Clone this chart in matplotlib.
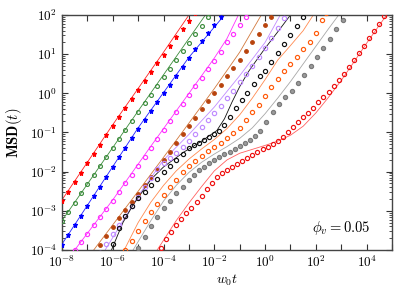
import matplotlib
matplotlib.use("Agg")
import matplotlib.pyplot as plt
import numpy as np
from matplotlib.ticker import FixedLocator, FuncFormatter, LogLocator, NullLocator

plt.rcParams["mathtext.fontset"] = "cm"
plt.rcParams["font.family"] = "serif"
plt.rcParams["font.serif"] = ["DejaVu Serif"]

# log10(w0 t) and log10(MSD), one pair per series
S1_T = [-8.0, -7.75, -7.5, -7.25, -7.0, -6.75, -6.5, -6.25, -6.0, -5.75, -5.5, -5.25, -5.0, -4.75,
        -4.5, -4.25, -4.0, -3.75, -3.5, -3.25, -3.0, -2.75]
S1_M = [-2.75, -2.51, -2.27, -2.03, -1.79, -1.55, -1.31, -1.07, -0.83, -0.60, -0.37, -0.14, 0.09, 0.32,
        0.54, 0.77, 0.99, 1.21, 1.43, 1.64, 1.85, 2.06]
S1_FIT_T = [-8.0, -6.0, -4.0, -3.0, -2.8]
S1_FIT_M = [-2.72, -0.80, 1.05, 2.0, 2.2]

S2_T = [-8.0, -7.75, -7.5, -7.25, -7.0, -6.75, -6.5, -6.25, -6.0, -5.75, -5.5, -5.25, -5.0, -4.75,
        -4.5, -4.25, -4.0, -3.75, -3.5, -3.25, -3.0, -2.75, -2.5, -2.25]
S2_M = [-3.27, -3.03, -2.79, -2.55, -2.31, -2.08, -1.85, -1.62, -1.39, -1.16, -0.93, -0.70, -0.47, -0.25,
        -0.03, 0.19, 0.41, 0.63, 0.85, 1.07, 1.29, 1.51, 1.73, 1.95]
S2_FIT_T = [-8.0, -5.0, -2.35, -2.2]
S2_FIT_M = [-3.25, -0.45, 2.0, 2.15]

S3_T = [-8.0, -7.75, -7.5, -7.25, -7.0, -6.75, -6.5, -6.25, -6.0, -5.75, -5.5, -5.25, -5.0, -4.75,
        -4.5, -4.25, -4.0, -3.75, -3.5, -3.25, -3.0, -2.75, -2.5, -2.25, -2.0, -1.75, -1.5]
S3_M = [-3.87, -3.62, -3.37, -3.12, -2.88, -2.63, -2.38, -2.13, -1.88, -1.63, -1.39, -1.14, -0.90, -0.67,
        -0.45, -0.23, 0.00, 0.22, 0.44, 0.67, 0.89, 1.12, 1.34, 1.54, 1.74, 1.94, 2.14]
S3_FIT_T = [-8.0, -5.0, -3.0, -1.6, -1.5]
S3_FIT_M = [-3.85, -0.88, 0.92, 2.0, 2.1]

S4_T = [-7.5, -7.25, -7.0, -6.75, -6.5, -6.25, -6.0, -5.75, -5.5, -5.25, -5.0, -4.75, -4.5, -4.25,
        -4.0, -3.75, -3.5, -3.25, -3.0, -2.75, -2.5, -2.25, -2.0, -1.75, -1.5, -1.25, -1.0, -0.75, -0.5]
S4_M = [-4.0, -3.79, -3.58, -3.37, -3.16, -2.95, -2.74, -2.52, -2.30, -2.08, -1.85, -1.62, -1.39, -1.16,
        -0.93, -0.70, -0.48, -0.26, -0.04, 0.18, 0.40, 0.62, 0.83, 1.06, 1.30, 1.52, 1.74, 1.96, 2.18]
S4_FIT_T = [-7.5, -6.0, -4.5, -3.0, -2.0, -1.5, -1.05, -0.95]
S4_FIT_M = [-4.0, -2.72, -1.35, 0.0, 0.9, 1.4, 2.0, 2.1]

S5_T = [-6.75, -6.5, -6.25, -6.0, -5.75, -5.5, -5.25, -5.0, -4.75, -4.5, -4.25, -4.0, -3.75, -3.5,
        -3.25, -3.0, -2.75, -2.5, -2.25, -2.0, -1.75, -1.5, -1.25, -1.0, -0.75, -0.5, -0.25, 0.0, 0.25]
S5_M = [-4.12, -3.88, -3.64, -3.41, -3.19, -2.98, -2.77, -2.56, -2.35, -2.14, -1.93, -1.71, -1.49, -1.27,
        -1.05, -0.83, -0.62, -0.41, -0.20, 0.01, 0.22, 0.43, 0.65, 0.86, 1.08, 1.30, 1.52, 1.74, 1.96]
S5_FIT_T = [-6.75, -5.0, -3.5, -2.0, -1.0, -0.15, 0.0]
S5_FIT_M = [-4.0, -2.5, -1.2, 0.12, 1.05, 2.0, 2.15]

S6_T = [-6.5, -6.25, -6.0, -5.75, -5.5, -5.25, -5.0, -4.75, -4.5, -4.25, -4.0, -3.75, -3.5, -3.25,
        -3.0, -2.75, -2.5, -2.25, -2.0, -1.75, -1.5, -1.25, -1.0, -0.75, -0.5, -0.25, 0.0, 0.25, 0.5,
        0.75, 1.0]
S6_M = [-4.08, -3.84, -3.60, -3.36, -3.12, -2.88, -2.64, -2.40, -2.16, -1.93, -1.78, -1.65, -1.52, -1.38,
        -1.22, -1.04, -0.86, -0.68, -0.50, -0.33, -0.13, 0.07, 0.28, 0.49, 0.71, 0.93, 1.16, 1.40, 1.66,
        1.92, 2.15]
S6_FIT_T = [-6.3, -5.0, -4.0, -3.0, -2.0, -1.0, 0.0, 0.6, 0.7]
S6_FIT_M = [-4.0, -2.62, -1.70, -1.05, -0.35, 0.45, 1.3, 2.0, 2.1]

S7_T = [-6.0, -5.75, -5.5, -5.25, -5.0, -4.75, -4.5, -4.25, -4.0, -3.75, -3.5, -3.25, -3.0, -2.8,
        -2.6, -2.4, -2.2, -2.0, -1.8, -1.6, -1.4, -1.15, -0.9, -0.7, -0.45, -0.2, 0.0, 0.25, 0.5,
        0.75, 1.0, 1.25, 1.5, 1.7]
S7_M = [-3.85, -3.45, -3.14, -2.88, -2.68, -2.51, -2.35, -2.18, -2.02, -1.86, -1.70, -1.54, -1.40, -1.33,
        -1.26, -1.19, -1.12, -1.05, -0.95, -0.80, -0.60, -0.38, -0.18, 0.02, 0.25, 0.45, 0.58, 0.80, 1.03,
        1.26, 1.48, 1.72, 1.95, 2.12]
S7_FIT_T = [-6.05, -5.6, -5.2, -4.5, -4.0, -3.2, -2.5, -1.9, -1.6, -1.3, -1.0, -0.66, -0.3, 0.0,
            0.5, 1.0, 1.1]
S7_FIT_M = [-4.0, -3.3, -2.85, -2.2, -1.88, -1.5, -1.22, -0.95, -0.65, -0.22, 0.17, 0.55, 0.88, 1.15,
            1.57, 2.0, 2.1]

S8_T = [-5.5, -5.25, -5.0, -4.75, -4.5, -4.25, -4.0, -3.75, -3.5, -3.25, -3.0, -2.75, -2.5, -2.25,
        -2.0, -1.75, -1.5, -1.25, -1.0, -0.75, -0.5, -0.25, 0.0, 0.25, 0.5, 0.75, 1.0, 1.25, 1.5,
        1.75, 2.0, 2.25, 2.4]
S8_M = [-4.0, -3.78, -3.52, -3.27, -3.03, -2.82, -2.60, -2.40, -2.20, -2.02, -1.86, -1.73, -1.60, -1.48,
        -1.37, -1.27, -1.15, -1.02, -0.88, -0.68, -0.48, -0.29, -0.07, 0.16, 0.37, 0.58, 0.76, 0.94, 1.12,
        1.31, 1.54, 1.86, 2.05]
S8_FIT_T = [-5.55, -5.0, -4.5, -4.0, -3.5, -3.0, -2.5, -2.0, -1.5, -1.0, -0.5, 0.0, 0.5, 1.0,
            1.5, 1.9, 2.0]
S8_FIT_M = [-4.0, -3.3, -2.78, -2.35, -1.98, -1.68, -1.42, -1.18, -0.90, -0.55, -0.12, 0.35, 0.85, 1.22,
            1.6, 2.0, 2.1]

S9_T = [-5.0, -4.75, -4.5, -4.25, -4.0, -3.75, -3.5, -3.25, -3.0, -2.8, -2.6, -2.4, -2.2, -2.0,
        -1.8, -1.6, -1.4, -1.2, -1.0, -0.8, -0.6, -0.4, -0.2, 0.05, 0.3, 0.55, 0.8, 1.05, 1.3,
        1.55, 1.8, 2.05, 2.3, 2.55, 2.8, 3.05, 3.3]
S9_M = [-3.95, -3.66, -3.40, -3.16, -2.94, -2.74, -2.55, -2.38, -2.22, -2.09, -1.97, -1.87, -1.78, -1.70,
        -1.63, -1.56, -1.49, -1.42, -1.35, -1.28, -1.20, -1.10, -0.97, -0.74, -0.48, -0.27, -0.10, 0.06, 0.26,
        0.48, 0.70, 0.92, 1.15, 1.39, 1.64, 1.88, 2.1]
S9_FIT_T = [-5.2, -4.5, -4.0, -3.5, -3.0, -2.5, -2.0, -1.5, -1.0, -0.5, 0.0, 0.5, 1.0, 1.5,
            2.0, 2.5, 2.9, 3.0]
S9_FIT_M = [-4.0, -3.25, -2.75, -2.35, -2.02, -1.76, -1.55, -1.36, -1.15, -0.88, -0.52, -0.12, 0.30, 0.75,
            1.2, 1.65, 2.0, 2.1]

S10_T = [-4.1, -3.9, -3.7, -3.5, -3.3, -3.1, -2.9, -2.7, -2.5, -2.3, -2.1, -1.9, -1.7, -1.5, -1.3,
         -1.1, -0.9, -0.7, -0.5, -0.3, -0.1, 0.1, 0.3, 0.5, 0.7, 0.9, 1.1, 1.3, 1.5, 1.7, 1.9, 2.1,
         2.3, 2.5, 2.7, 2.9, 3.1, 3.3, 3.5, 3.7, 3.9, 4.1, 4.3, 4.5, 4.7]
S10_M = [-3.95, -3.72, -3.53, -3.37, -3.21, -3.06, -2.92, -2.77, -2.61, -2.44, -2.28, -2.13, -2.03, -1.95,
         -1.87, -1.80, -1.73, -1.65, -1.58, -1.50, -1.43, -1.36, -1.29, -1.21, -1.11, -0.99, -0.86, -0.73,
         -0.61, -0.49, -0.37, -0.23, -0.10, 0.03, 0.18, 0.33, 0.49, 0.66, 0.84, 1.02, 1.21, 1.40, 1.59,
         1.78, 1.97]
S10_FIT_T = [-4.25, -3.5, -3.0, -2.5, -2.0, -1.5, -1.0, -0.5, 0.0, 0.5, 1.0, 1.5, 2.0, 2.5, 3.0,
             3.5, 4.0, 4.5, 4.9]
S10_FIT_M = [-4.0, -3.25, -2.80, -2.38, -1.98, -1.70, -1.53, -1.43, -1.33, -1.22, -1.07, -0.84, -0.50,
             -0.10, 0.33, 0.80, 1.28, 1.74, 2.1]

# (markers, fit) pairs with their styles
SERIES = [
    (S1_T, S1_M, S1_FIT_T, S1_FIT_M, dict(marker="*", mfc="#ff0000", mec="#ff0000", ms=3.6), "#ff2020"),
    (S2_T, S2_M, S2_FIT_T, S2_FIT_M, dict(marker="o", mfc="none", mec="#3c8c3c", ms=2.8), "#3c8c3c"),
    (S3_T, S3_M, S3_FIT_T, S3_FIT_M, dict(marker="*", mfc="#0000ff", mec="#0000ff", ms=3.6), "#2020ff"),
    (S4_T, S4_M, S4_FIT_T, S4_FIT_M, dict(marker="o", mfc="none", mec="#ff30ff", ms=3.0), "#ff30ff"),
    (S5_T, S5_M, S5_FIT_T, S5_FIT_M, dict(marker="o", mfc="#b8430c", mec="#b8430c", ms=2.6), "#d2783c"),
    (S6_T, S6_M, S6_FIT_T, S6_FIT_M, dict(marker="o", mfc="none", mec="#c08cff", ms=3.1), "#c08cff"),
    (S7_T, S7_M, S7_FIT_T, S7_FIT_M, dict(marker="o", mfc="none", mec="#111111", ms=3.0), "#111111"),
    (S8_T, S8_M, S8_FIT_T, S8_FIT_M, dict(marker="o", mfc="none", mec="#ff5a0a", ms=3.0), "#ff8a50"),
    (S9_T, S9_M, S9_FIT_T, S9_FIT_M, dict(marker="o", mfc="#9a9a9a", mec="#7a7a7a", ms=3.0), "#a8a8a8"),
    (S10_T, S10_M, S10_FIT_T, S10_FIT_M, dict(marker="o", mfc="none", mec="#ee1111", ms=3.0), "#ff6060"),
]

fig = plt.figure(figsize=(4.15, 2.91), dpi=100)
ax = fig.add_axes([62 / 415, 1 - 250 / 291, 330 / 415, 235 / 291])

for t, m, ft, fm, mstyle, lcolor in SERIES:
    ax.plot(10.0 ** np.array(ft), 10.0 ** np.array(fm), "-", color=lcolor, lw=0.6, zorder=2)
    ax.plot(10.0 ** np.array(t), 10.0 ** np.array(m), ls="none", mew=0.85, zorder=3, **mstyle)

ax.set_xscale("log")
ax.set_yscale("log")
ax.set_xlim(1e-8, 1e5)
ax.set_ylim(1e-4, 1e2)

ax.xaxis.set_major_locator(FixedLocator([10.0 ** k for k in range(-8, 6)]))
ax.xaxis.set_minor_locator(NullLocator())
ax.xaxis.set_major_formatter(FuncFormatter(
    lambda v, p: r"$10^{%d}$" % round(np.log10(v)) if round(np.log10(v)) % 2 == 0 else ""))
ax.yaxis.set_major_locator(FixedLocator([10.0 ** k for k in range(-4, 3)]))
ax.yaxis.set_minor_locator(LogLocator(base=10, subs=np.arange(2, 10)))
ax.yaxis.set_major_formatter(FuncFormatter(lambda v, p: r"$10^{%d}$" % round(np.log10(v))))

ax.tick_params(which="both", direction="in", top=True, right=True, colors="#333333",
               labelcolor="black", labelsize=9.5)
ax.tick_params(which="major", length=4, width=0.8)
ax.tick_params(which="minor", length=2, width=0.6)
for s in ax.spines.values():
    s.set_color("#444444")
    s.set_linewidth(1.0)

ax.set_xlabel(r"$w_0t$", fontsize=10, labelpad=2)
ax.set_ylabel(r"$\mathbf{MSD}(t)$", fontsize=10.5, labelpad=4)
ax.text(0.845, 0.095, r"$\phi_v = 0.05$", transform=ax.transAxes, fontsize=10.5,
        ha="center", va="center")

fig.savefig("out.png", dpi=100)
